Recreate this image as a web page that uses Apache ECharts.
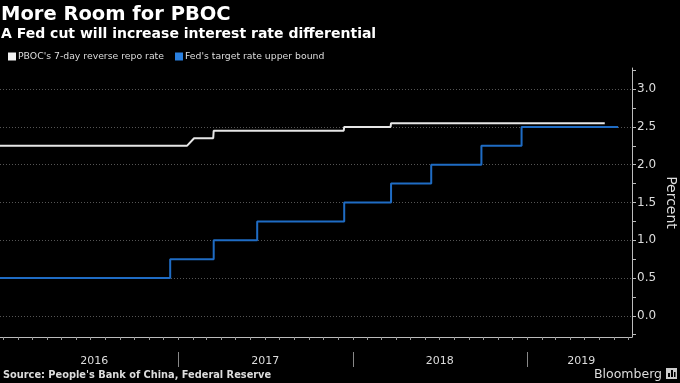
<!DOCTYPE html>
<html><head><meta charset="utf-8">
<script src="https://cdn.jsdelivr.net/npm/echarts@6/dist/echarts.min.js"></script>
<style>html,body{margin:0;padding:0;background:#000}#c{width:680px;height:383px}</style>
</head><body><div id="c"></div>
<script>
// ---- data ----
const pbocName = "PBOC's 7-day reverse repo rate";
const pbocDates = ['2015-12-25','2017-01-19','2017-02-03','2017-03-15','2017-03-16','2017-12-13','2017-12-14','2018-03-21','2018-03-22','2019-06-12'];
const pbocValues = [2.25,2.25,2.35,2.35,2.45,2.45,2.5,2.5,2.55,2.55];
const fedName = "Fed's target rate upper bound";
const fedDates = ['2015-12-25','2016-12-15','2017-03-16','2017-06-15','2017-12-14','2018-03-22','2018-06-14','2018-09-27','2018-12-20','2019-07-10'];
const fedValues = [0.5,0.75,1.0,1.25,1.5,1.75,2.0,2.25,2.5,2.5];
const yearLabels = ['2016','2017','2018','2019'];
const yearLabelDates = ['2016-07-09','2017-07-02','2018-07-02','2019-04-24'];
const yearBoundaries = ['2017-01-01','2018-01-01','2019-01-01'];
const yTickLabels = [0,0.5,1,1.5,2,2.5,3];
const yMinorTicks = [-0.25,0,0.25,0.5,0.75,1,1.25,1.5,1.75,2,2.25,2.5,2.75,3,3.25];
const axisStart = '2015-12-25', axisEnd = '2019-08-08';

function t(s){ const p = s.split('-'); return Date.UTC(+p[0], +p[1]-1, +p[2]); }
const monthTicks = [];
for (let y = 2016; y <= 2019; y++) for (let m = 0; m < 12; m++) {
  const v = Date.UTC(y, m, 1);
  if (v <= t(axisEnd)) monthTicks.push(v);
}
const yearLabelTs = yearLabelDates.map(t);

const chart = echarts.init(document.getElementById('c'));
const FONT = 'DejaVu Sans';
chart.setOption({
  backgroundColor: '#000',
  animation: false,
  textStyle: { fontFamily: FONT },
  title: [
    { text: 'More Room for PBOC', left: 1, top: 5, padding: 0,
      textStyle: { color: '#fff', fontSize: 19.5, fontWeight: 'bold', fontFamily: FONT } },
    { text: 'A Fed cut will increase interest rate differential', left: 1, top: 27, padding: 0,
      textStyle: { color: '#fff', fontSize: 14, fontWeight: 'bold', fontFamily: FONT } },
    { text: "Source: People's Bank of China, Federal Reserve", left: 3, bottom: 3, padding: 0,
      textStyle: { color: '#ddd', fontSize: 9.8, fontWeight: 'bold', fontFamily: FONT } },
    { text: 'Bloomberg', right: 18, bottom: 2, padding: 0,
      textStyle: { color: '#ddd', fontSize: 12.5, fontWeight: 'normal', fontFamily: FONT } }
  ],
  graphic: [
    { type: 'group', right: 3, bottom: 4, children: [
      { type: 'rect', shape: { x: 0, y: 0, width: 11, height: 11 }, style: { fill: '#ccc' } },
      { type: 'rect', shape: { x: 2, y: 5, width: 2, height: 4 }, style: { fill: '#000' } },
      { type: 'rect', shape: { x: 5, y: 2, width: 2, height: 7 }, style: { fill: '#000' } },
      { type: 'rect', shape: { x: 8, y: 4, width: 1.5, height: 5 }, style: { fill: '#000' } }
    ] }
  ],
  legend: {
    left: 3, top: 47, icon: 'rect', itemWidth: 8, itemHeight: 8, itemGap: 11,
    data: [pbocName, fedName],
    textStyle: { color: '#ddd', fontSize: 9.3, fontFamily: FONT, padding: [0, 0, 0, -3] }
  },
  grid: { left: 0, right: 48, top: 68, bottom: 46, containLabel: false, outerBoundsMode: 'none' },
  xAxis: [
    { type: 'value', min: t(axisStart), max: t(axisEnd), position: 'bottom',
      axisLine: { show: true, onZero: false, lineStyle: { color: '#bbb', width: 1 } },
      axisTick: { show: true, length: 3, customValues: monthTicks, lineStyle: { color: '#999' } },
      axisLabel: { show: false }, splitLine: { show: false } },
    { type: 'value', min: t(axisStart), max: t(axisEnd), position: 'bottom', offset: 15,
      axisLine: { show: false, onZero: false },
      axisTick: { show: true, length: 15, customValues: yearBoundaries.map(t), lineStyle: { color: '#888' } },
      axisLabel: { show: true, customValues: yearLabelTs, margin: 4, color: '#ddd', fontSize: 11,
        formatter: v => { const i = yearLabelTs.indexOf(v); return i >= 0 ? yearLabels[i] : ''; } },
      splitLine: { show: false } }
  ],
  yAxis: {
    type: 'value', position: 'right', min: -0.28, max: 3.28,
    axisLine: { show: true, onZero: false, lineStyle: { color: '#bbb' } },
    axisTick: { show: true, length: 4, customValues: yMinorTicks, lineStyle: { color: '#bbb' } },
    axisLabel: { customValues: yTickLabels, formatter: v => v.toFixed(1), color: '#ddd', fontSize: 12, margin: 5 },
    splitLine: { show: false },
    name: 'Percent', nameLocation: 'middle', nameRotate: -90, nameGap: 39, nameMoveOverlap: false,
    nameTextStyle: { color: '#ddd', fontSize: 14, verticalAlign: 'middle', align: 'center' }
  },
  series: [
    { name: pbocName, type: 'line', z: 4, showSymbol: false, symbol: 'none',
      data: pbocDates.map((d, i) => [t(d), pbocValues[i]]),
      lineStyle: { color: '#e6e6e6', width: 2 }, itemStyle: { color: '#f2f2f2' },
      markLine: { z: 1, silent: true, symbol: 'none', label: { show: false },
        lineStyle: { color: '#555', type: [1, 2], width: 1 },
        data: yTickLabels.map(v => ({ yAxis: v })) } },
    { name: fedName, type: 'line', z: 3, showSymbol: false, symbol: 'none', step: 'end',
      data: fedDates.map((d, i) => [t(d), fedValues[i]]),
      lineStyle: { color: '#1f6cc4', width: 2 }, itemStyle: { color: '#2a80e0' } }
  ]
});
</script></body></html>
